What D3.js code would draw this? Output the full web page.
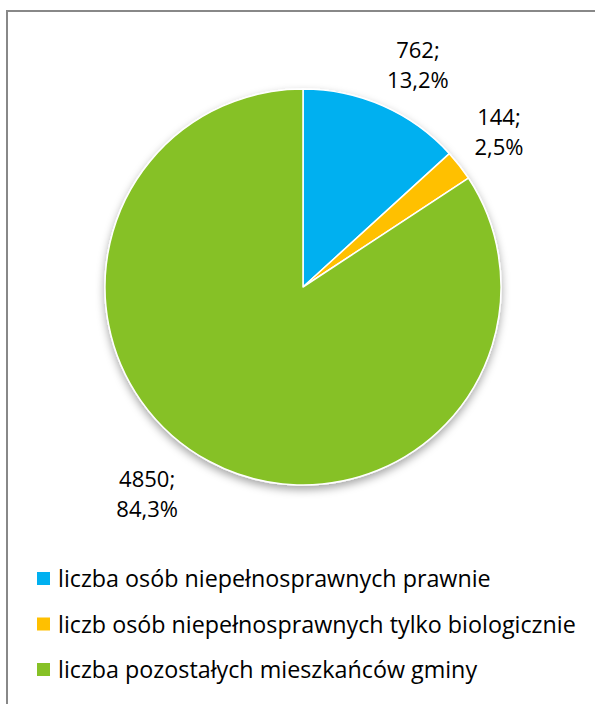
<!DOCTYPE html>
<html><head><meta charset="utf-8">
<script src="https://cdn.jsdelivr.net/npm/d3@7"></script>
<style>html,body{margin:0;padding:0;background:#fff;}svg{display:block;}</style>
</head><body>
<svg id="chart" width="595" height="704"></svg>
<script>
const categories = [
  "liczba osób niepełnosprawnych prawnie",
  "liczb osób niepełnosprawnych tylko biologicznie",
  "liczba pozostałych mieszkańców gminy"
];
const values = [762, 144, 4850];
const colors = ["#00B0F0", "#FFC000", "#86C126"];

const W = 595, H = 704;
const svg = d3.select("#chart");
const font = "'Open Sans', 'Noto Sans', sans-serif";

// frame (cropped on right and bottom)
svg.append("rect").attr("x", 7).attr("y", 11).attr("width", W + 20).attr("height", H + 20)
  .attr("fill", "none").attr("stroke", "#888").attr("stroke-width", 2);

const defs = svg.append("defs");
const f = defs.append("filter").attr("id", "shadow").attr("x", "-10%").attr("y", "-10%").attr("width", "120%").attr("height", "125%");
f.append("feDropShadow").attr("dx", 0).attr("dy", 4).attr("stdDeviation", 4).attr("flood-color", "#000").attr("flood-opacity", 0.35);

const cx = 303, cy = 287, r = 198;
const total = d3.sum(values);
const pie = d3.pie().sort(null).value(d => d)(values);
const arc = d3.arc().innerRadius(0).outerRadius(r);

const g = svg.append("g").attr("transform", `translate(${cx},${cy})`);
g.append("g").attr("filter", "url(#shadow)")
  .selectAll("path").data(pie).join("path")
  .attr("d", arc).attr("fill", (d, i) => colors[i])
  .attr("stroke", "#fff").attr("stroke-width", 1.5).attr("stroke-linejoin", "round");

// data labels (best-fit style, outside)
const fmtPct = v => d3.format(".1f")(v).replace(".", ",") + "%";
const labelLayout = [ {da: 3.6, rr: 1.26}, {da: -0.4, rr: 1.26}, {da: 8.6, rr: 1.31} ];
pie.forEach((d, i) => {
  const mid = (d.startAngle + d.endAngle) / 2 + labelLayout[i].da * Math.PI / 180;
  const rr = r * labelLayout[i].rr;
  const x = Math.sin(mid) * rr, y = -Math.cos(mid) * rr;
  const t = g.append("text").attr("text-anchor", "middle")
    .attr("font-family", font).attr("font-size", 22).attr("fill", "#000");
  t.append("tspan").attr("x", x).attr("y", y - 7.5).text(values[i] + ";");
  t.append("tspan").attr("x", x).attr("y", y + 22.5).text(fmtPct(values[i] / total * 100));
});

// legend
const leg = svg.append("g").attr("transform", "translate(37,572)");
const rows = leg.selectAll("g").data(categories).join("g")
  .attr("transform", (d, i) => `translate(0,${i * 45.5})`);
rows.append("rect").attr("width", 13).attr("height", 13).attr("fill", (d, i) => colors[i]);
rows.append("text").attr("x", 21).attr("y", 15)
  .attr("font-family", font).attr("font-size", 23.3).attr("fill", "#000").text(d => d);
</script>
</body></html>
